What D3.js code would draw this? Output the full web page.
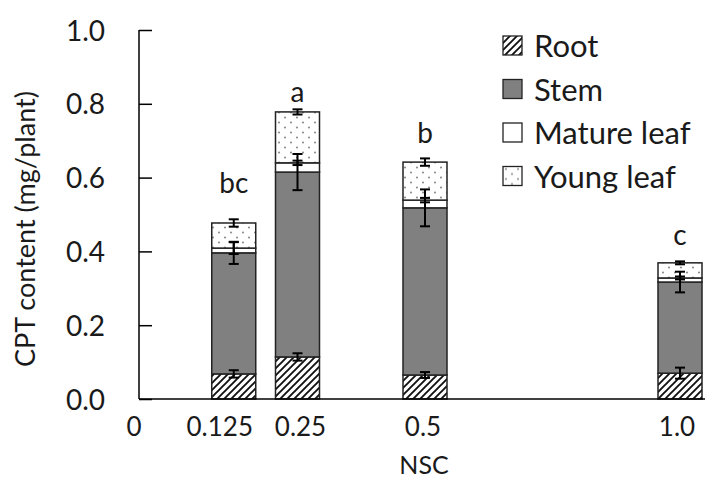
<!DOCTYPE html>
<html><head><meta charset="utf-8">
<script src="https://cdn.jsdelivr.net/npm/d3@7"></script>
<style>body{margin:0;background:#fff}svg{display:block}text{font-family:Lato,"Open Sans",sans-serif;fill:#1a1a1a}</style>
</head><body><svg id="c" width="705" height="485"></svg>
<script>
// ---- data ----
const categories = [0.125, 0.25, 0.5, 1.0];
const seriesNames = ["Root", "Stem", "Mature leaf", "Young leaf"];
const root       = [0.068, 0.114, 0.065, 0.070];
const stem       = [0.328, 0.501, 0.453, 0.247];
const matureLeaf = [0.013, 0.025, 0.021, 0.011];
const youngLeaf  = [0.068, 0.138, 0.103, 0.041];
const rootErr    = [0.010, 0.010, 0.008, 0.015];
const stemErr    = [0.030, 0.049, 0.050, 0.028];
const matureErr  = [0.016, 0.006, 0.006, 0.004];
const youngErr   = [0.010, 0.007, 0.010, 0.004];
const sigLetters = ["bc", "a", "b", "c"];
const xTickLabels = ["0", "0.125", "0.25", "0.5", "1.0"];
const xTickValues = [0, 0.125, 0.25, 0.5, 1.0];
const yTicks = [0, 0.2, 0.4, 0.6, 0.8, 1.0];

// ---- layout ----
const svg = d3.select("#c");
const x = d3.scaleLinear().domain([0, 1]).range([170, 680]);
const y = d3.scaleLinear().domain([0, 1]).range([399, 30]);
const barW = 44;
const labelDx = [-36, -14, 3, -2, -3];
const letterGap = [30, 10, 19, 18];

const defs = svg.append("defs");
const hatch = defs.append("pattern").attr("id", "hatch").attr("patternUnits", "userSpaceOnUse")
  .attr("width", 7).attr("height", 7);
hatch.append("rect").attr("width", 7).attr("height", 7).attr("fill", "#fff");
hatch.append("path").attr("d", "M-1,1 l2,-2 M0,7 l7,-7 M6,8 l2,-2").attr("stroke", "#111").attr("stroke-width", 1.9);
const dots = defs.append("pattern").attr("id", "dots").attr("patternUnits", "userSpaceOnUse")
  .attr("width", 12).attr("height", 10);
dots.append("rect").attr("width", 12).attr("height", 10).attr("fill", "#fff");
dots.append("circle").attr("cx", 3).attr("cy", 2.5).attr("r", 0.9).attr("fill", "#777");
dots.append("circle").attr("cx", 9).attr("cy", 7.5).attr("r", 0.9).attr("fill", "#777");

const fills = ["url(#hatch)", "#808080", "#fff", "url(#dots)"];
const seriesVals = [root, stem, matureLeaf, youngLeaf];
const seriesErr = [rootErr, stemErr, matureErr, youngErr];

const rows = categories.map((c, i) => {
  const o = {cat: c};
  seriesNames.forEach((s, k) => o[s] = seriesVals[k][i]);
  return o;
});
const stacked = d3.stack().keys(seriesNames)(rows);

// bars
stacked.forEach((layer, k) => {
  svg.append("g").selectAll("rect").data(layer).join("rect")
    .attr("x", d => x(d.data.cat) - barW / 2)
    .attr("y", d => y(d[1]))
    .attr("width", barW)
    .attr("height", d => y(d[0]) - y(d[1]))
    .attr("fill", fills[k])
    .attr("stroke", "#222").attr("stroke-width", 1.5);
});

// error bars
stacked.forEach((layer, k) => {
  const g = svg.append("g").attr("stroke", "#000").attr("stroke-width", 2);
  layer.forEach((d, i) => {
    const cx = x(d.data.cat), e = seriesErr[k][i];
    const y1 = y(d[1] + e), y2 = y(d[1] - e);
    g.append("line").attr("x1", cx).attr("x2", cx).attr("y1", y1).attr("y2", y2);
    g.append("line").attr("x1", cx - 5).attr("x2", cx + 5).attr("y1", y1).attr("y2", y1);
    g.append("line").attr("x1", cx - 5).attr("x2", cx + 5).attr("y1", y2).attr("y2", y2);
  });
});

// significance letters
const tops = stacked[stacked.length - 1];
svg.append("g").selectAll("text").data(tops).join("text")
  .attr("x", d => x(d.data.cat))
  .attr("y", (d, i) => y(d[1]) - letterGap[i])
  .attr("text-anchor", "middle").attr("font-size", 28)
  .text((d, i) => sigLetters[i]);

// y axis
const yAxis = d3.axisLeft(y).tickValues(yTicks).tickFormat(d3.format(".1f")).tickSize(-13).tickPadding(34);
const ya = svg.append("g").attr("transform", "translate(139,0)").call(yAxis);
ya.select(".domain").attr("stroke", "#000").attr("stroke-width", 1.5).attr("d", "M0,30V399");
ya.selectAll(".tick line").attr("stroke", "#000").attr("stroke-width", 1.5);
ya.selectAll(".tick text").attr("font-size", 28).attr("font-family", "Lato").attr("fill", "#1a1a1a").attr("dy", "0.36em");

// x axis line
svg.append("line").attr("x1", 139).attr("x2", 705).attr("y1", y(0)).attr("y2", y(0))
  .attr("stroke", "#000").attr("stroke-width", 1.5);
svg.append("g").selectAll("text").data(xTickValues).join("text")
  .attr("x", (d, i) => x(d) + labelDx[i]).attr("y", 436)
  .attr("text-anchor", "middle").attr("font-size", 26)
  .text((d, i) => xTickLabels[i]);

// axis titles
svg.append("text").attr("x", 424).attr("y", 474).attr("text-anchor", "middle").attr("font-size", 25).text("NSC");
svg.append("text").attr("transform", "translate(35,229) rotate(-90)").attr("text-anchor", "middle")
  .attr("font-size", 27).text("CPT content (mg/plant)");

// legend
const lg = svg.append("g").selectAll("g").data(seriesNames).join("g")
  .attr("transform", (d, i) => `translate(503,${36 + i * 43.5})`);
lg.append("rect").attr("width", 19).attr("height", 19).attr("fill", (d, i) => fills[i])
  .attr("stroke", "#222").attr("stroke-width", 1.3);
lg.append("text").attr("x", 31).attr("y", 10).attr("dy", "0.36em").attr("font-size", 31).text(d => d);
</script></body></html>
